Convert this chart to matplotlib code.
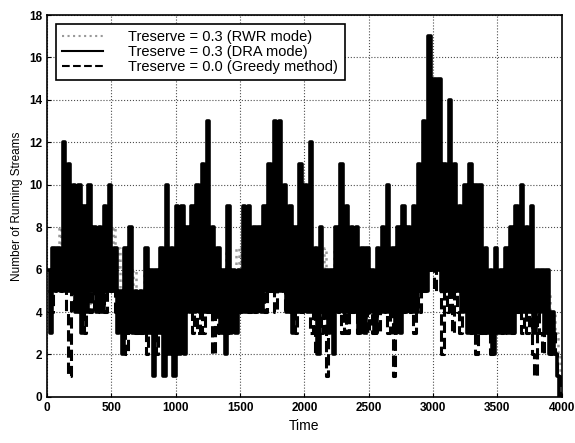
import matplotlib
matplotlib.use('Agg')
import matplotlib.pyplot as plt
import numpy as np

plt.rcParams['font.family'] = ['Liberation Sans', 'DejaVu Sans']

step = 20
# DRA mode (Treserve = 0.3), one value every 20 time units
dra = [6, 3, 7, 5, 7, 5, 12, 5, 11, 5, 10, 4, 10, 3, 9, 4, 10, 5, 8, 4,
       8, 4, 9, 5, 10, 5, 7, 3, 5, 2, 7, 3, 8, 3, 5, 3, 5, 3, 7, 3,
       6, 1, 6, 3, 7, 1, 10, 2, 7, 1, 9, 2, 9, 2, 8, 4, 9, 4, 10, 4,
       11, 4, 13, 4, 8, 4, 7, 3, 6, 2, 9, 3, 6, 3, 6, 4, 9, 4, 9, 4,
       8, 4, 8, 4, 9, 5, 11, 5, 13, 5, 13, 5, 10, 4, 9, 3, 8, 4, 11, 4,
       10, 4, 12, 4, 7, 2, 8, 4, 6, 3, 6, 2, 8, 4, 11, 4, 9, 4, 8, 4,
       8, 3, 7, 3, 7, 4, 6, 3, 7, 4, 8, 4, 10, 4, 7, 3, 8, 3, 9, 4,
       8, 4, 9, 4, 11, 5, 13, 5, 17, 6, 15, 6, 15, 5, 11, 5, 14, 5, 11, 5,
       9, 4, 10, 3, 11, 3, 10, 3, 10, 3, 7, 3, 6, 2, 7, 3, 6, 3, 7, 3,
       8, 3, 9, 4, 10, 4, 8, 4, 9, 3, 6, 4, 6, 3, 6, 2, 4, 2, 1, 0]

# RWR mode (Treserve = 0.3)
rwr = [6, 5, 7, 5, 8, 6, 7, 5, 8, 6, 7, 5, 8, 5, 7, 4, 6, 5, 7, 6,
       5, 8, 6, 7, 5, 8, 6, 7, 4, 6, 4, 5, 4, 6, 4, 5, 4, 6, 5, 6,
       4, 6, 3, 6, 4, 7, 4, 6, 3, 6, 4, 7, 5, 8, 5, 7, 5, 7, 5, 8,
       5, 7, 6, 8, 5, 7, 4, 6, 4, 7, 4, 6, 4, 7, 5, 7, 5, 7, 5, 6,
       5, 7, 5, 7, 6, 8, 6, 8, 6, 8, 7, 8, 5, 7, 5, 6, 4, 7, 5, 8,
       5, 8, 5, 7, 4, 6, 5, 7, 4, 6, 4, 7, 5, 7, 5, 8, 5, 7, 5, 7,
       4, 6, 4, 6, 4, 6, 4, 6, 4, 7, 5, 7, 6, 4, 7, 4, 7, 5, 7, 5,
       6, 5, 7, 6, 7, 6, 8, 7, 10, 9, 6, 9, 6, 8, 5, 8, 6, 9, 6, 8,
       5, 6, 7, 4, 6, 4, 6, 4, 6, 4, 6, 4, 5, 6, 4, 5, 4, 6, 4, 5,
       4, 6, 4, 6, 7, 4, 6, 4, 5, 4, 5, 4, 5, 4, 5, 3, 4, 3, 2, 1]

# Greedy method (Treserve = 0.0)
greedy = [5, 4, 6, 5, 6, 5, 6, 4, 1, 5, 4, 6, 4, 5, 3, 6, 4, 6, 4, 5,
          4, 6, 4, 6, 5, 6, 4, 5, 3, 5, 2, 4, 3, 5, 3, 4, 3, 4, 2, 4,
          3, 5, 2, 5, 3, 6, 2, 5, 2, 4, 3, 5, 3, 5, 4, 6, 3, 5, 3, 5,
          3, 6, 4, 5, 2, 5, 3, 5, 3, 5, 3, 5, 4, 6, 4, 6, 4, 6, 4, 5,
          4, 6, 4, 6, 4, 6, 5, 6, 4, 6, 5, 7, 4, 6, 4, 5, 3, 6, 4, 6,
          4, 5, 3, 5, 2, 4, 3, 5, 1, 4, 3, 5, 4, 5, 3, 6, 3, 5, 4, 6,
          3, 5, 4, 5, 3, 5, 3, 5, 3, 5, 4, 5, 3, 5, 1, 4, 3, 5, 4, 5,
          4, 5, 3, 6, 4, 6, 5, 7, 6, 7, 5, 7, 6, 2, 5, 4, 6, 3, 5, 4,
          3, 5, 4, 6, 3, 5, 2, 5, 3, 5, 3, 5, 2, 4, 3, 5, 3, 5, 3, 5,
          3, 5, 4, 5, 3, 4, 3, 5, 2, 1, 4, 3, 2, 4, 3, 2, 3, 2, 1, 0]

t = np.arange(len(dra)) * step

fig = plt.figure(figsize=(5.75, 4.43), dpi=100)
ax = fig.add_axes([0.082, 0.104, 0.895, 0.862])

ax.step(t + 10, rwr, where='post', color='0.6', linestyle=':', linewidth=1.8,
        label='Treserve = 0.3 (RWR mode)', zorder=2)
ax.step(t, dra, where='post', color='black', linestyle='-', linewidth=2.6,
        label='Treserve = 0.3 (DRA mode)', zorder=3)
ax.step(t + 5, greedy, where='post', color='black', linestyle='--', linewidth=2.2,
        label='Treserve = 0.0 (Greedy method)', zorder=2.5)

ax.set_xlim(0, 4000)
ax.set_ylim(0, 18)
ax.set_xticks(np.arange(0, 4001, 500))
ax.set_yticks(np.arange(0, 19, 2))
ax.grid(True, linestyle=':', color='0.3', linewidth=0.8)
ax.tick_params(direction='in', labelsize=8.5, length=3)
for lbl in ax.get_xticklabels() + ax.get_yticklabels():
    lbl.set_fontweight('bold')
for s in ax.spines.values():
    s.set_linewidth(1.2)

ax.set_xlabel('Time', fontsize=10)
ax.set_ylabel('Number of Running Streams', fontsize=8.5)

leg = ax.legend(loc='upper left', fontsize=10.5, fancybox=False, framealpha=1,
                edgecolor='black', handlelength=2.8, borderpad=0.45, labelspacing=0.05,
                handletextpad=1.7, borderaxespad=0.6)
leg.get_frame().set_linewidth(1.2)
for h in leg.get_lines():
    h.set_linewidth(1.5)

fig.savefig('out.png', dpi=100)
